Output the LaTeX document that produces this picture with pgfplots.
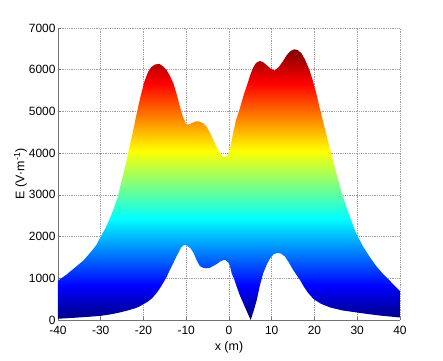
\documentclass[border=0pt]{standalone}
\usepackage{pgfplots}
\pgfplotsset{compat=1.18}
\usepackage{fontspec}
\setmainfont{Liberation Sans}
\definecolor{jetA}{rgb}{0,0,0.5}
\definecolor{jetB}{rgb}{0,0,1}
\definecolor{jetC}{rgb}{0,1,1}
\definecolor{jetD}{rgb}{1,1,0}
\definecolor{jetE}{rgb}{1,0,0}
\definecolor{jetF}{rgb}{0.5,0,0}
\definecolor{axgray}{rgb}{0.45,0.45,0.45}
\definecolor{gridgray}{rgb}{0.62,0.62,0.62}
\pgfdeclareverticalshading{jet}{100bp}{color(0bp)=(jetA); color(25bp)=(jetA); color(31.25bp)=(jetB); color(43.75bp)=(jetC); color(56.25bp)=(jetD); color(68.75bp)=(jetE); color(75bp)=(jetF); color(100bp)=(jetF)}
\pgfplotstableread{
x y
-40 940
-38 1090
-36 1260
-34 1430
-32.5 1610
-31 1800
-30 2000
-29 2180
-28 2400
-27 2660
-26 2960
-25 3380
-24 3800
-23.6 4000
-22.5 4500
-21.5 5000
-20.6 5400
-19.8 5710
-19.0 5930
-18.2 6060
-17.3 6125
-16.3 6140
-15.4 6080
-14.6 5990
-13.8 5850
-13 5670
-12.2 5400
-11.5 5120
-10.8 4880
-10.1 4710
-9.5 4685
-8.7 4720
-7.8 4760
-7.0 4760
-6.1 4720
-5.2 4630
-4.4 4480
-3.7 4320
-2.9 4150
-2.1 4000
-1.5 3920
-0.9 3900
-0.3 3960
0.2 4080
0.9 4450
1.6 4780
2.5 5060
3.4 5380
4.4 5690
5.0 5880
5.6 6040
6.3 6160
7.2 6210
8.0 6180
8.7 6120
9.7 6030
10.7 5980
11.6 6060
12.6 6200
13.5 6350
14.4 6450
15.3 6490
16.1 6470
16.9 6400
17.8 6240
18.8 6000
19.6 5740
20.4 5440
21.3 5050
22.3 4640
23.3 4240
24.3 3840
25.4 3400
26.6 2970
28.1 2520
29.7 2090
31.2 1790
32.8 1530
34.3 1310
35.8 1130
38 900
40 690
40 60
37 90
35 110
32 150
29.9 180
26.5 230
23.7 300
21.5 390
19.8 500
18.5 650
17.5 800
16.6 960
15.8 1080
15.0 1200
14.0 1380
13.1 1520
12.2 1590
11.3 1610
10.4 1570
9.6 1480
8.8 1320
8.0 1120
7.2 820
6.5 480
5.8 230
5.08 0
4.2 200
3.35 400
2.5 600
1.8 800
1.2 980
0.63 1120
0.2 1300
-0.16 1380
-0.9 1440
-1.5 1430
-2.1 1400
-2.9 1340
-3.7 1295
-4.5 1250
-5.2 1240
-6.0 1250
-6.8 1290
-7.5 1420
-8.3 1610
-9.0 1720
-9.8 1780
-10.5 1800
-11.2 1740
-11.8 1620
-12.5 1480
-13.2 1330
-13.8 1210
-14.6 1030
-15.5 870
-16.3 740
-17.0 640
-18 520
-19 440
-20 380
-21 320
-22 280
-24 220
-26 170
-28 130
-30 100
-33 75
-36 55
-40 30
}\surface
\begin{document}
\begin{tikzpicture}
\useasboundingbox (-58bp,-41bp) rectangle (385bp,320bp);
\begin{axis}[
  at={(0,0)}, anchor=south west,
  scale only axis, width=342bp, height=292bp,
  xmin=-40, xmax=40, ymin=0, ymax=7000,
  xtick={-40,-30,...,40}, ytick={0,1000,...,7000},
  axis x line*=bottom, axis y line*=left,
  axis line style={axgray, line width=0.6pt, -},
  tick style={axgray, line width=0.5pt},
  tick align=inside, major tick length=3bp,
  grid=major,
  major grid style={gridgray, line width=0.5pt, dash pattern=on 0.6pt off 1.2pt},
  /pgf/number format/assume math mode=true,
  /pgf/number format/1000 sep={},
  scaled y ticks=false,
  tick label style={font=\fontsize{12}{14}\selectfont, black},
  label style={font=\fontsize{12.5}{14}\selectfont, black},
  xticklabel style={yshift=-3bp},
  yticklabel style={xshift=1bp},
  xlabel={x (m)},
  ylabel={E (V·m\textsuperscript{-1})},
  xlabel style={yshift=0bp},
  ylabel style={yshift=-5bp},
]
\addplot[draw=none, shading=jet, mark=none] table[x=x,y=y] {\surface} -- cycle;
\end{axis}
\end{tikzpicture}
\end{document}
